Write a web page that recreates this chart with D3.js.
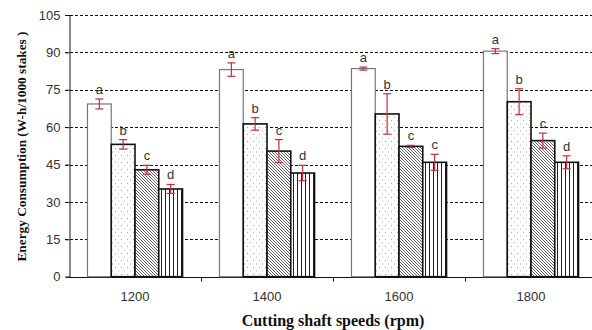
<!DOCTYPE html>
<html>
<head>
<meta charset="utf-8">
<script src="https://cdn.jsdelivr.net/npm/d3@7"></script>
<style>
  html, body { margin: 0; padding: 0; background: #fff; }
  svg { display: block; }
</style>
</head>
<body>
<svg id="chart" width="592" height="330"></svg>
<script>
// Cutting shaft speeds (rpm)
const speeds = ["1200", "1400", "1600", "1800"];
// Four treatments per speed, drawn left to right inside each group
const treatments = ["T1", "T2", "T3", "T4"];
// Mean energy consumption (W-h/1000 stakes)
const meanT1 = [69.3, 83.1, 83.5, 90.5];
const meanT2 = [53.1, 61.3, 65.3, 70.2];
const meanT3 = [42.9, 50.4, 52.3, 54.6];
const meanT4 = [35.2, 41.6, 45.9, 45.9];
// Standard error half-widths
const errT1 = [2.0, 2.7, 0.6, 1.0];
const errT2 = [1.9, 2.5, 8.1, 5.2];
const errT3 = [1.8, 4.6, 0.4, 3.0];
const errT4 = [1.8, 3.1, 3.2, 2.6];
// Significance letters
const lettersT1 = ["a", "a", "a", "a"];
const lettersT2 = ["b", "b", "b", "b"];
const lettersT3 = ["c", "c", "c", "c"];
const lettersT4 = ["d", "d", "c", "d"];
const yTicks = [0, 15, 30, 45, 60, 75, 90, 105];

const means = [meanT1, meanT2, meanT3, meanT4];
const errs = [errT1, errT2, errT3, errT4];
const letters = [lettersT1, lettersT2, lettersT3, lettersT4];

const svg = d3.select("#chart");
const plotL = 69, plotR = 597, plotT = 15, plotB = 276.7;
const sans = "Liberation Sans, Arial, sans-serif";
const serif = "Liberation Serif, Times New Roman, serif";

// Patterns for the four treatments
const defs = svg.append("defs");
const pDots = defs.append("pattern").attr("id", "dots")
  .attr("patternUnits", "userSpaceOnUse").attr("width", 6).attr("height", 7);
pDots.append("rect").attr("width", 6).attr("height", 7).attr("fill", "#fff");
pDots.append("rect").attr("x", 1).attr("y", 1).attr("width", 1).attr("height", 1).attr("fill", "#a8a8a8");
pDots.append("rect").attr("x", 4).attr("y", 4.5).attr("width", 1).attr("height", 1).attr("fill", "#b4b4b4");

const pDiag = defs.append("pattern").attr("id", "diag")
  .attr("patternUnits", "userSpaceOnUse").attr("width", 3).attr("height", 3);
pDiag.append("rect").attr("width", 3).attr("height", 3).attr("fill", "#fff");
pDiag.append("path").attr("d", "M-1,-1 L4,4 M-1,2 L1,4 M2,-1 L4,1")
  .attr("stroke", "#333").attr("stroke-width", 0.75);

const pVert = defs.append("pattern").attr("id", "vert")
  .attr("patternUnits", "userSpaceOnUse").attr("width", 4).attr("height", 4);
pVert.append("rect").attr("width", 4).attr("height", 4).attr("fill", "#fff");
pVert.append("rect").attr("x", 1).attr("y", 0).attr("width", 1).attr("height", 4).attr("fill", "#222");

const fills = ["#fff", "url(#dots)", "url(#diag)", "url(#vert)"];
const strokes = ["#777", "#111", "#111", "#111"];
const strokeW = [1.2, 1.6, 1.6, 1.6];

const x0 = d3.scaleBand().domain(speeds).range([plotL, plotR]).paddingInner(0.28).paddingOuter(0.14);
const x1 = d3.scaleBand().domain(treatments).range([0, x0.bandwidth()]);
const xEdge = d3.scaleBand().domain(speeds).range([plotL, plotR]);
const y = d3.scaleLinear().domain([0, 105]).range([plotB, plotT]);

// Dashed grid
svg.append("g").selectAll("line").data(yTicks.filter(d => d > 0)).join("line")
  .attr("x1", plotL - 4).attr("x2", plotR)
  .attr("y1", d => Math.round(y(d)) + 0.5).attr("y2", d => Math.round(y(d)) + 0.5)
  .attr("stroke", "#111").attr("stroke-width", 1).attr("stroke-dasharray", "3,2");

// Y axis
const yAxis = svg.append("g").attr("transform", `translate(${plotL + 0.5},0)`)
  .call(d3.axisLeft(y).tickValues(yTicks).tickSize(4).tickPadding(5));
yAxis.select(".domain").attr("stroke", "#111");
yAxis.selectAll(".tick line").attr("stroke", "#111");
yAxis.selectAll("text").attr("font-family", sans)
  .attr("font-size", 13).attr("fill", "#333");

// X axis with ticks at category boundaries
const xg = svg.append("g").attr("transform", `translate(0,${Math.round(plotB) + 0.5})`);
xg.append("line").attr("x1", plotL).attr("x2", plotR).attr("stroke", "#111");
xg.selectAll("line.tk").data(speeds.slice(1)).join("line").attr("class", "tk")
  .attr("x1", d => Math.round(xEdge(d)) + 0.5).attr("x2", d => Math.round(xEdge(d)) + 0.5)
  .attr("y1", 0).attr("y2", 4).attr("stroke", "#111");
xg.selectAll("text").data(speeds).join("text")
  .attr("x", d => xEdge(d) + xEdge.bandwidth() / 2).attr("y", 23)
  .attr("text-anchor", "middle")
  .attr("font-family", sans).attr("font-size", 13).attr("fill", "#333")
  .text(d => d);

// Bars
const rows = [];
speeds.forEach((s, i) => treatments.forEach((t, j) => rows.push({
  s, t, j, v: means[j][i], e: errs[j][i], l: letters[j][i]
})));

const g = svg.append("g");
g.selectAll("rect").data(rows).join("rect")
  .attr("x", d => x0(d.s) + x1(d.t))
  .attr("y", d => y(d.v))
  .attr("width", x1.bandwidth())
  .attr("height", d => y(0) - y(d.v))
  .attr("fill", d => fills[d.j])
  .attr("stroke", d => strokes[d.j])
  .attr("stroke-width", d => strokeW[d.j]);

// Error bars
const eb = svg.append("g").attr("stroke", "#c0303c").attr("stroke-width", 1.2);
rows.forEach(d => {
  const cx = x0(d.s) + x1(d.t) + x1.bandwidth() / 2;
  const y1 = y(d.v + d.e), y2 = y(d.v - d.e);
  eb.append("line").attr("x1", cx).attr("x2", cx).attr("y1", y1).attr("y2", y2);
  eb.append("line").attr("x1", cx - 4).attr("x2", cx + 4).attr("y1", y1).attr("y2", y1);
  eb.append("line").attr("x1", cx - 4).attr("x2", cx + 4).attr("y1", y2).attr("y2", y2);
});

// Letters above error bars
svg.append("g").selectAll("text").data(rows).join("text")
  .attr("x", d => x0(d.s) + x1(d.t) + x1.bandwidth() / 2)
  .attr("y", d => y(d.v + d.e) - 5)
  .attr("text-anchor", "middle")
  .attr("font-family", sans).attr("font-size", 13).attr("fill", "#333")
  .text(d => d.l);

// Axis titles
svg.append("text")
  .attr("transform", `translate(26,146.5) rotate(-90)`)
  .attr("text-anchor", "middle")
  .attr("font-family", serif).attr("font-weight", "bold")
  .attr("font-size", 13.3).attr("fill", "#111")
  .text("Energy Consumption (W-h/1000 stakes )");

svg.append("text")
  .attr("x", 333).attr("y", 326)
  .attr("text-anchor", "middle")
  .attr("font-family", serif).attr("font-weight", "bold")
  .attr("font-size", 16).attr("fill", "#111")
  .text("Cutting shaft speeds (rpm)");
</script>
</body>
</html>
